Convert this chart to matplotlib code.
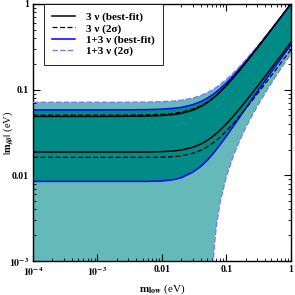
import matplotlib
matplotlib.use("Agg")
import matplotlib.pyplot as plt
from matplotlib.lines import Line2D

# lightest neutrino mass grid (eV)
m_low = [1e-4, 1e-3, 0.003, 0.006, 0.01, 0.015, 0.02, 0.03, 0.04, 0.05, 0.06, 0.07,
         0.08, 0.1, 0.13, 0.16, 0.2, 0.25, 0.3, 0.4, 0.5, 0.6, 0.7, 0.85, 1.0]

# 3 nu best-fit (upper / lower)
nu3_bf_up = [0.0486, 0.0486, 0.0488, 0.0491, 0.0498, 0.0511, 0.0528, 0.0574, 0.0633, 0.0701,
             0.0775, 0.0855, 0.0939, 0.1114, 0.1390, 0.1674, 0.2059, 0.2548, 0.3040, 0.4030,
             0.5024, 0.6020, 0.7017, 0.8514, 1.0]
nu3_bf_lo = [0.0187, 0.0187, 0.0187, 0.0187, 0.0189, 0.0192, 0.0197, 0.0212, 0.0231, 0.0254,
             0.0280, 0.0308, 0.0337, 0.0398, 0.0495, 0.0596, 0.0732, 0.0905, 0.1079, 0.1430,
             0.1782, 0.2135, 0.2488, 0.3019, 0.3550]
# 3 nu 2 sigma
nu3_2s_up = [0.0503, 0.0503, 0.0504, 0.0508, 0.0515, 0.0527, 0.0544, 0.0590, 0.0647, 0.0714,
             0.0788, 0.0867, 0.0950, 0.1125, 0.1400, 0.1684, 0.2070, 0.2559, 0.3052, 0.4044,
             0.5041, 0.6040, 0.7039, 0.8541, 1.004]
nu3_2s_lo = [0.0162, 0.0162, 0.0162, 0.0162, 0.0163, 0.0165, 0.0169, 0.0181, 0.0196, 0.0214,
             0.0235, 0.0257, 0.0280, 0.0330, 0.0409, 0.0491, 0.0603, 0.0744, 0.0887, 0.1174,
             0.1463, 0.1753, 0.2043, 0.2478, 0.2914]
# 1+3 nu best-fit
nu13_bf_up = [0.0579, 0.0579, 0.0581, 0.0584, 0.0591, 0.0604, 0.0620, 0.0666, 0.0723, 0.0790,
              0.0863, 0.0941, 0.1023, 0.1195, 0.1465, 0.1744, 0.2121, 0.2600, 0.3082, 0.4052,
              0.5027, 0.6003, 0.6980, 0.8447, 0.9903]
nu13_bf_lo = [0.0085, 0.0085, 0.0085, 0.0085, 0.0086, 0.0089, 0.0094, 0.0109, 0.0127, 0.0149,
              0.0174, 0.0201, 0.0229, 0.0287, 0.0380, 0.0477, 0.0608, 0.0774, 0.0941, 0.1278,
              0.1616, 0.1955, 0.2294, 0.2803, 0.3313]
# 1+3 nu 2 sigma upper
nu13_2s_up = [0.0711, 0.0711, 0.0712, 0.0716, 0.0723, 0.0734, 0.0751, 0.0795, 0.0851, 0.0916,
              0.0987, 0.1064, 0.1145, 0.1314, 0.1581, 0.1856, 0.2231, 0.2705, 0.3183, 0.4146,
              0.5113, 0.6082, 0.7051, 0.8508, 0.9965]
# 1+3 nu 2 sigma lower (reaches zero below ~0.06 eV)
m_edge = [1e-4, 0.0605, 0.062, 0.064, 0.066, 0.07, 0.08, 0.1, 0.13, 0.16, 0.2, 0.25, 0.3,
          0.4, 0.5, 0.6, 0.7, 0.85, 1.0]
nu13_2s_lo = [0.0, 0.0, 0.00088, 0.0013, 0.0017, 0.0026, 0.0049, 0.0097, 0.0174, 0.0253,
              0.0362, 0.0499, 0.0637, 0.0916, 0.1196, 0.1477, 0.1759, 0.2181, 0.2604]

x_ticks = [1e-4, 1e-3, 1e-2, 1e-1, 1]
x_labels = [r'$\mathbf{10^{-4}}$', r'$\mathbf{10^{-3}}$', '0.01', '0.1', '1']
y_ticks = [1e-3, 1e-2, 1e-1, 1]
y_labels = [r'$\mathbf{10^{-3}}$', '0.01', '0.1', '1']
legend_labels = ['3 ν (best-fit)', '3 ν (2σ)', '1+3 ν (best-fit)', '1+3 ν (2σ)']

plt.rcParams['font.family'] = ['Liberation Serif', 'DejaVu Serif']
plt.rcParams['font.weight'] = 'bold'
plt.rcParams['mathtext.fontset'] = 'stix'

LIGHT = '#65b9b8'
DARK = '#008b87'
BLUE = '#0000ff'
LBLUE = '#7a7aff'

fig = plt.figure(figsize=(2.95, 2.95), dpi=100)
ax = fig.add_axes([0.112, 0.115, 0.874, 0.872])
ax.set_xscale('log')
ax.set_yscale('log')

# light 2-sigma region (1+3 nu)
poly_x = list(m_low) + list(reversed(m_edge))
poly_y = list(nu13_2s_up) + list(reversed(nu13_2s_lo))
ax.fill(poly_x, poly_y, color=LIGHT, lw=0, zorder=1)
# dark best-fit region (1+3 nu)
ax.fill_between(m_low, nu13_bf_lo, nu13_bf_up, color=DARK, lw=0, zorder=2)

ax.plot(m_low, nu13_2s_up, color=LBLUE, lw=1.0, ls=(0, (4, 1.5)), zorder=3)
ax.plot(m_edge, nu13_2s_lo, color=LBLUE, lw=1.0, ls=(0, (4, 1.5)), zorder=3)
ax.plot(m_low, nu13_bf_up, color=BLUE, lw=1.1, zorder=4)
ax.plot(m_low, nu13_bf_lo, color=BLUE, lw=1.1, zorder=4)
ax.plot(m_low, nu3_bf_up, color='black', lw=1.1, zorder=5)
ax.plot(m_low, nu3_bf_lo, color='black', lw=1.1, zorder=5)
ax.plot(m_low, nu3_2s_up, color='black', lw=0.9, ls=(0, (4, 2)), zorder=5)
ax.plot(m_low, nu3_2s_lo, color='black', lw=0.9, ls=(0, (4, 2)), zorder=5)

ax.set_xlim(1e-4, 1)
ax.set_ylim(1e-3, 1)
ax.set_xticks(x_ticks)
ax.set_xticklabels(x_labels)
ax.set_yticks(y_ticks)
ax.set_yticklabels(y_labels)
ax.tick_params(which='both', direction='in', top=True, right=True, labelsize=7, pad=3)
ax.tick_params(which='major', length=5, width=0.8)
ax.tick_params(which='minor', length=2.5, width=0.6)
for sp in ax.spines.values():
    sp.set_linewidth(1.0)

ax.set_xlabel(r'$\mathbf{m_{low}}$ (eV)', fontsize=8)
ax.set_ylabel(r'$|\mathbf{m}_{\beta\beta}|$ (eV)', fontsize=7.5)
ax.xaxis.set_label_coords(0.5, -0.085)
ax.yaxis.set_label_coords(-0.07, 0.5)

handles = [Line2D([], [], color='black', lw=1.1),
           Line2D([], [], color='black', lw=0.9, ls=(0, (4, 2))),
           Line2D([], [], color=BLUE, lw=1.1),
           Line2D([], [], color=LBLUE, lw=1.0, ls=(0, (4, 1.5)))]
leg = ax.legend(handles, legend_labels, loc='upper left', bbox_to_anchor=(0.043, 1.0),
                prop={'family': ['Liberation Serif', 'DejaVu Serif'], 'weight': 'bold', 'size': 8},
                frameon=True, fancybox=False, edgecolor='black',
                framealpha=1, handlelength=2.0, handletextpad=1.0, labelspacing=0.12,
                borderpad=0.75, borderaxespad=0)
leg.get_frame().set_linewidth(0.6)

fig.savefig('out.png', dpi=100)
